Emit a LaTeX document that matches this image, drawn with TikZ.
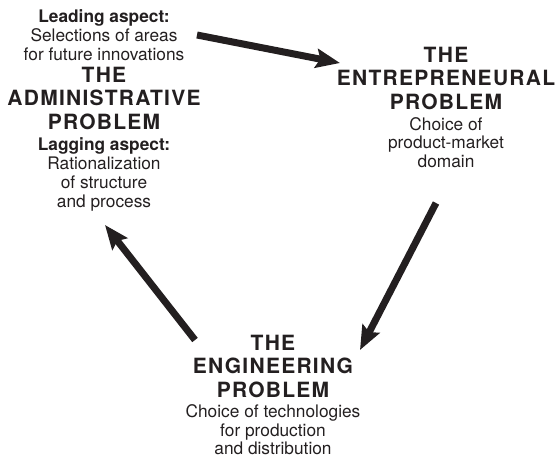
\documentclass[tikz,border=0pt]{standalone}
\usepackage{fontspec}
\setmainfont{TeX Gyre Heros}
\newfontfamily\headfont[LetterSpace=6]{TeX Gyre Heros}
\newfontfamily\bodyfont{TeX Gyre Heros}
\usetikzlibrary{positioning}
\usetikzlibrary{arrows.meta}
\definecolor{ink}{RGB}{35,31,32}

\begin{document}
\begin{tikzpicture}[x=1pt,y=-1pt,
    head/.style={font=\headfont\bfseries\fontsize{21}{23.5}\selectfont},
    body/.style={font=\bodyfont\fontsize{17.3}{19}\selectfont}]
            \useasboundingbox (0,0) rectangle (556,457);

            \begin{scope}[every node/.style={align=center,inner sep=0pt,anchor=north,text=ink}]
                \node[body] (lead) at (104,9.4) {\textbf{Leading aspect:}\\Selections of areas\\for future innovations};
                \node[head] (admin) at (104,66.9) {THE\\ADMINISTRATIVE\\PROBLEM};
                \node[body] (lag) at (104,137.6) {\textbf{Lagging aspect:}\\Rationalization\\of structure\\and process};
                \node[head] (entre) at (446,46.6) {THE\\ENTREPRENEURAL\\PROBLEM};
                \node[body,font=\bodyfont\fontsize{17.3}{18.7}\selectfont] (domain) at (446,116.9) {Choice of\\product-market\\domain};
                \node[head] (engin) at (273,334.9) {THE\\ENGINEERING\\PROBLEM};
                \node[body,font=\bodyfont\fontsize{17.3}{18.5}\selectfont] (techno) at (273,404.4) {Choice of technologies\\for production\\and distribution};
            \end{scope};

            \coordinate (lead-out) at (197,35);
            \coordinate (entre-in) at (340,63);
            \coordinate (entre-out) at (436,203);
            \coordinate (engin-in) at (360,350);
            \coordinate (engin-out) at (195,340);
            \coordinate (lag-in) at (105,225);

            \begin{scope}[every edge/.style={draw=ink,line width=7pt,-{Stealth[length=24pt,width=19pt,inset=4pt]}}]
                \path (lead-out) edge (entre-in);
                \path (entre-out) edge (engin-in);
                \path (engin-out) edge (lag-in);
            \end{scope}
        \end{tikzpicture}
\end{document}
